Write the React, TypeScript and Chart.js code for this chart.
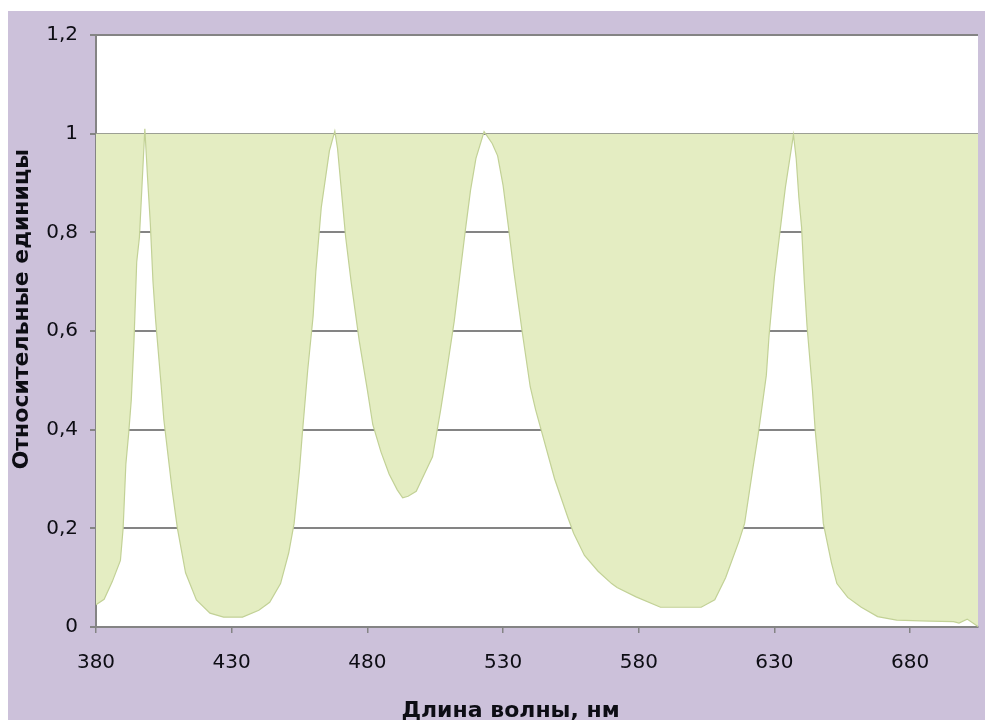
import { useEffect, useRef } from "react";
import { Chart, registerables } from "chart.js";

Chart.register(...registerables);

// Spectrum: wavelength (nm) and relative intensity
const wavelengths = [
  380, 383, 386, 389, 390, 391, 392, 393, 394, 395, 396, 397, 398, 399, 400, 401, 402, 404, 405, 408,
  410, 413, 417, 422, 427, 434, 440, 444, 448, 451, 453, 455, 456, 458, 460, 461, 463, 466, 468, 469,
  471, 472, 474, 477, 480, 482, 485, 488, 491, 493, 495, 498, 501, 504, 507, 509, 512, 514, 516, 518,
  520, 523, 526, 528, 530, 532, 534, 537, 540, 542, 544, 549, 554, 556, 560, 565, 570, 572, 579, 588,
  603, 608, 612, 617, 619, 622, 624, 627, 628, 630, 632, 634, 637, 638, 639, 640, 641, 642, 644, 645,
  647, 648, 651, 653, 657, 662, 668, 675, 687, 696, 698, 701, 705,
];
const intensity = [
  0.045, 0.056, 0.092, 0.135, 0.2, 0.33, 0.39, 0.46, 0.58, 0.74, 0.79, 0.9, 1.01, 0.91, 0.82, 0.7, 0.62, 0.49, 0.42, 0.28,
  0.2, 0.11, 0.055, 0.028, 0.02, 0.02, 0.034, 0.05, 0.088, 0.15, 0.21, 0.32, 0.39, 0.52, 0.63, 0.72, 0.85, 0.965, 1.005, 0.97,
  0.85, 0.79, 0.7, 0.58, 0.48, 0.41, 0.355, 0.31, 0.278, 0.262, 0.265, 0.275, 0.31, 0.345, 0.44, 0.51, 0.62, 0.71, 0.8, 0.885,
  0.95, 1.004, 0.98, 0.955, 0.895, 0.81, 0.72, 0.6, 0.487, 0.44, 0.4, 0.3, 0.22, 0.19, 0.145, 0.113, 0.088, 0.08, 0.061, 0.04,
  0.04, 0.055, 0.1, 0.175, 0.21, 0.32, 0.39, 0.51, 0.59, 0.71, 0.8, 0.89, 0.998, 0.95, 0.87, 0.81, 0.7, 0.61, 0.48, 0.4,
  0.28, 0.21, 0.13, 0.088, 0.06, 0.04, 0.021, 0.014, 0.012, 0.011, 0.008, 0.016, 0.001,
];

const xTickValues = [380, 430, 480, 530, 580, 630, 680];
const yTickValues = [0, 0.2, 0.4, 0.6, 0.8, 1, 1.2];
const xTitle = "Длина волны, нм";
const yTitle = "Относительные единицы";

const FONT = "'DejaVu Sans', Verdana, sans-serif";
const AXIS_GRAY = "#848484";
const TEXT = "#0d0d14";

// Paints the plot area white on top of the lavender page background
const plotBackground = {
  id: "plotBackground",
  beforeDraw(chart: Chart) {
    const { ctx, chartArea } = chart;
    ctx.save();
    ctx.fillStyle = "#ffffff";
    ctx.fillRect(chartArea.left, chartArea.top, chartArea.right - chartArea.left, chartArea.bottom - chartArea.top);
    ctx.restore();
  },
};

// Axis captions, each set slightly off the middle of the plot
const axisCaptions = {
  id: "axisCaptions",
  afterDraw(chart: Chart) {
    const { ctx, chartArea, height } = chart;
    const w = chartArea.right - chartArea.left;
    const h = chartArea.bottom - chartArea.top;
    ctx.save();
    ctx.fillStyle = TEXT;
    ctx.font = `bold 22px ${FONT}`;
    ctx.textAlign = "center";
    ctx.textBaseline = "middle";
    ctx.fillText(xTitle, chartArea.left + w * 0.47, height - 9);
    ctx.translate(14, chartArea.top + h * 0.463);
    ctx.rotate(-Math.PI / 2);
    ctx.fillText(yTitle, 0, 0);
    ctx.restore();
  },
};

export default function App() {
  const canvasRef = useRef<HTMLCanvasElement | null>(null);

  useEffect(() => {
    if (!canvasRef.current) return;
    const chart = new Chart(canvasRef.current, {
      type: "line",
      data: {
        datasets: [
          {
            data: wavelengths.map((x, i) => ({ x, y: intensity[i] })),
            borderColor: "#c2d196",
            borderWidth: 1.2,
            backgroundColor: "#e4edc2",
            fill: { value: 1 },
            pointRadius: 0,
            tension: 0,
          },
        ],
      },
      options: {
        animation: false,
        responsive: false,
        devicePixelRatio: 1,
        layout: { padding: { top: 24, right: 7, left: 0, bottom: 0 } },
        plugins: { legend: { display: false }, tooltip: { enabled: false } },
        scales: {
          x: {
            type: "linear",
            min: 380,
            max: 705,
            afterBuildTicks: (scale: any) => {
              scale.ticks = xTickValues.map((value) => ({ value }));
            },
            afterFit: (scale: any) => {
              scale.height = 93;
            },
            grid: { drawOnChartArea: false, drawTicks: true, tickLength: 6, color: AXIS_GRAY, lineWidth: 1.5 },
            border: { color: AXIS_GRAY, width: 2 },
            ticks: {
              color: TEXT,
              font: { family: FONT, size: 20 },
              padding: 18,
              maxRotation: 0,
              autoSkip: false,
              callback: (v: any) => String(v),
            },
          },
          y: {
            min: 0,
            max: 1.2,
            z: 1,
            afterBuildTicks: (scale: any) => {
              scale.ticks = yTickValues.map((value) => ({ value }));
            },
            afterFit: (scale: any) => {
              scale.width = 88;
            },
            grid: { color: AXIS_GRAY, lineWidth: 2, tickLength: 6, drawTicks: true },
            border: { color: AXIS_GRAY, width: 2 },
            ticks: {
              color: TEXT,
              font: { family: FONT, size: 20 },
              padding: 12,
              callback: (v: any) => String(Math.round(v * 10) / 10).replace(".", ","),
            },
          },
        },
      },
      plugins: [plotBackground, axisCaptions],
    });
    return () => chart.destroy();
  }, []);

  return (
    <div style={{ position: "fixed", left: 8, top: 11, width: 977, height: 709, background: "#ccc1da" }}>
      <canvas ref={canvasRef} width={977} height={709} style={{ display: "block" }} />
    </div>
  );
}
